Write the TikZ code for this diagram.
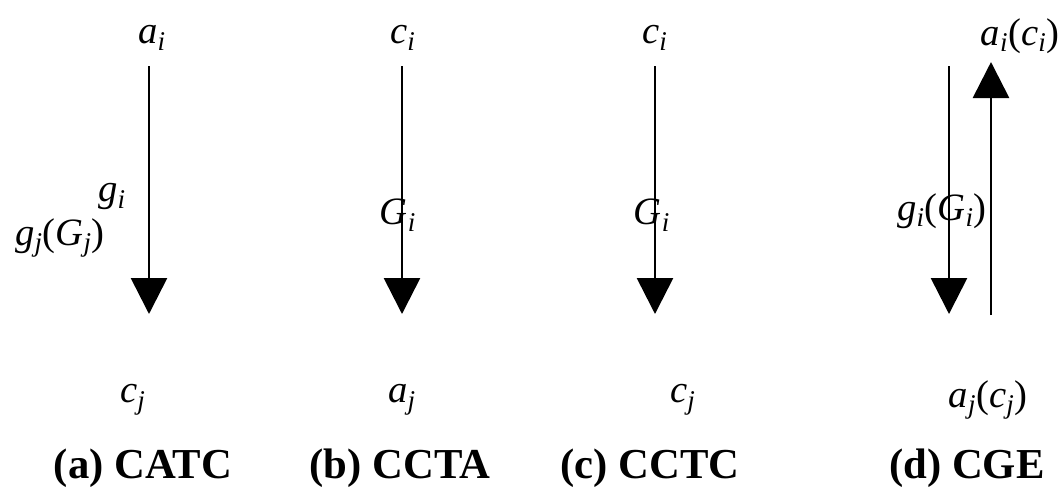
\documentclass[tikz,border=0pt]{standalone}
\usepackage{fontspec}
\setmainfont{Liberation Serif}
\usetikzlibrary{positioning,arrows.meta}
\newcommand{\vr}[2]{\textit{#1}\textsubscript{\textit{#2}}}

\begin{document}
\begin{tikzpicture}[x=0.75pt,y=-0.75pt,font=\fontsize{29}{32}\selectfont,>={Triangle[width=27pt,length=27pt]}]
  \tikzstyle{flow}=[->,line width=2pt]
  \tikzstyle{lbl}=[inner sep=0pt]
  \tikzstyle{caption}=[inner sep=0pt,font=\fontsize{32}{34}\selectfont\bfseries]
  \useasboundingbox (0,0) rectangle (1064,487);
  % (a) CATC
  \node[lbl] (ai) at (152,38) {\vr{a}{i}};
  \node[lbl] (gi) at (112,197) {\vr{g}{i}};
  \node[lbl] (gj) at (60,238) {\vr{g}{j}(\vr{G}{j})};
  \node[lbl] (cj) at (133,400) {\vr{c}{j}};
  \node[caption] (capa) at (143,468) {(a) CATC};
  \coordinate (a1) at (149,66);
  \coordinate (a2) at (149,314);
  % (b) CCTA
  \node[lbl] (ci) at (403,38) {\vr{c}{i}};
  \node[lbl] (Gi) at (398,215) {\vr{G}{i}};
  \node[lbl] (aj) at (402,400) {\vr{a}{j}};
  \node[caption] (capb) at (400,468) {(b) CCTA};
  \coordinate (b1) at (402,66);
  \coordinate (b2) at (402,314);
  % (c) CCTC
  \node[lbl] (ci2) at (655,38) {\vr{c}{i}};
  \node[lbl] (Gi2) at (652,215) {\vr{G}{i}};
  \node[lbl] (cj2) at (683,400) {\vr{c}{j}};
  \node[caption] (capc) at (650,468) {(c) CCTC};
  \coordinate (c1) at (655,66);
  \coordinate (c2) at (655,314);
  % (d) CGE
  \node[lbl] (aici) at (1020,36) {\vr{a}{i}(\vr{c}{i})};
  \node[lbl] (giGi) at (942,211) {\vr{g}{i}(\vr{G}{i})};
  \node[lbl] (ajcj) at (988,400) {\vr{a}{j}(\vr{c}{j})};
  \node[caption] (capd) at (967,468) {(d) CGE};
  \coordinate (d1) at (949,66);
  \coordinate (d2) at (949,314);
  \coordinate (u1) at (991,315);
  \coordinate (u2) at (991,62);
  % arrows
  \draw[flow] (a1) -- (a2);
  \draw[flow] (b1) -- (b2);
  \draw[flow] (c1) -- (c2);
  \draw[flow] (d1) -- (d2);
  \draw[flow] (u1) -- (u2);
\end{tikzpicture}
\end{document}
